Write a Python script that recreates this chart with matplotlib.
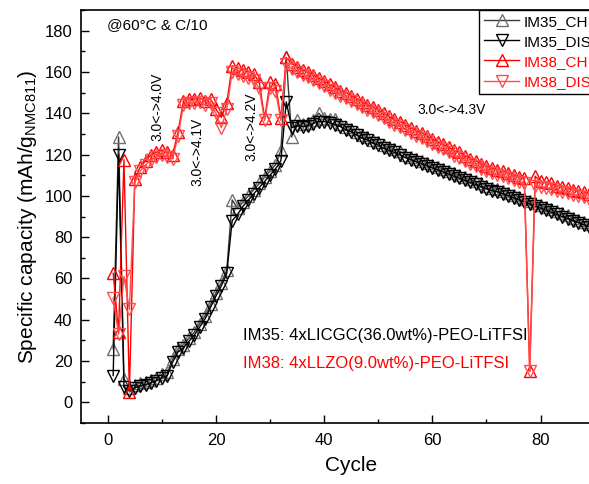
import matplotlib
matplotlib.use("Agg")
import matplotlib.pyplot as plt
from matplotlib.ticker import MultipleLocator

plt.rcParams['font.family'] = ['Liberation Sans', 'DejaVu Sans']
plt.rcParams['mathtext.fontset'] = 'custom'
plt.rcParams['mathtext.rm'] = 'Liberation Sans'
plt.rcParams['mathtext.it'] = 'Liberation Sans'

cycles = list(range(1, 93))

im35_ch = [26, 128.5, 11.5, 7, 8.5, 9.5, 10, 11, 12, 13.5,
           14.5, 21, 26, 28, 31, 34, 38, 42, 47.5, 53,
           58, 64, 98, 94, 97, 100, 103, 106, 109, 112,
           115, 122, 167, 128.5, 136.5, 135, 135.5, 136.5, 140, 137.5,
           137, 137, 135, 133.5, 132.5, 131, 129.5, 128.5, 127, 126,
           124.5, 123.5, 122.5, 121.5, 120, 119, 118, 117, 116, 115,
           114, 113, 112, 111, 110, 109, 108, 107, 106, 105,
           104, 103.5, 102.5, 101.5, 100.5, 99.5, 98.5, 97.5, 96.5, 95.5,
           94.5, 93.5, 92.5, 91.5, 90.5, 89.5, 88.5, 87.5, 86.5, 85.5,
           84.5, 83.5]

im35_dis = [13, 120, 7.5, 5.5, 7, 8, 8.5, 9.5, 10.5, 12,
            13, 19.5, 24.5, 26.5, 29.5, 32.5, 36.5, 40.5, 46, 51.5,
            56.5, 62.5, 88, 91, 95, 98, 101, 104, 107, 110,
            113, 117, 145.5, 133, 134, 133.5, 134, 135, 136, 136,
            135.5, 134.5, 133.5, 132, 131, 129.5, 128, 127, 125.5, 124.5,
            123, 122, 121, 120, 118.5, 117.5, 116.5, 115.5, 114.5, 113.5,
            112.5, 111.5, 110.5, 109.5, 108.5, 107.5, 106.5, 105.5, 104.5, 103.5,
            102.5, 102, 101, 100, 99, 98, 97, 96, 95, 94,
            93, 92, 91, 90, 89, 88, 87, 86, 85, 84,
            83, 82]

im38_ch = [62.5, 34, 117.5, 5, 108, 114, 117, 120, 121, 122,
           121, 120, 131, 146, 147, 147, 147.5, 146, 147, 142,
           138, 145, 163, 162, 161, 160, 159, 155, 137.5, 155,
           154, 137.5, 167, 164, 162.5, 161, 160, 158.5, 157, 155.5,
           154, 152.5, 151, 150, 148.5, 147, 145.5, 144, 143, 141.5,
           140, 138.5, 137, 136, 134.5, 133, 131.5, 130.5, 129, 127.5,
           126, 125, 123.5, 122, 121, 119.5, 118, 117, 115.5, 114.5,
           113.5, 112.5, 112, 111, 110, 109, 108.5, 15, 109.5, 107,
           106.5, 106, 105, 104.5, 104, 103, 102.5, 102, 101, 100.5,
           100, 99.5]

im38_dis = [50.5, 33, 61, 45, 106.5, 112, 115, 117.5, 119, 120,
            119, 118, 129, 144, 145, 145, 145.5, 144, 145, 140,
            133, 142, 160, 159, 158, 157, 156, 152, 136.5, 152,
            151, 136.5, 164, 161.5, 160, 158.5, 157.5, 156, 154.5, 153,
            151.5, 150, 148.5, 147.5, 146, 144.5, 143, 141.5, 140.5, 139,
            137.5, 136, 134.5, 133.5, 132, 130.5, 129, 128, 126.5, 125,
            123.5, 122.5, 121, 119.5, 118.5, 117, 115.5, 114.5, 113, 112,
            111, 110, 109.5, 108.5, 107.5, 106.5, 106, 15, 105, 104.5,
            104, 103.5, 102.5, 102, 101.5, 100.5, 100, 99.5, 98.5, 98,
            97.5, 97]

series_labels = ['IM35_CH', 'IM35_DIS', 'IM38_CH', 'IM38_DIS']

fig = plt.figure(figsize=(5.89, 4.84), dpi=100)
W, H = 589, 484
ax = fig.add_axes([80.7 / W, 61 / H, 541 / W, 413 / H])

styles = [
    dict(marker='^', color='#3a3a3a', mec='#707070', tc='black'),
    dict(marker='v', color='black', mec='black', tc='black'),
    dict(marker='^', color='#ff0000', mec='#ff0000', tc='#ff0000'),
    dict(marker='v', color='#ff4d4d', mec='#ff4d4d', tc='#ff0000'),
]
data = [im35_ch, im35_dis, im38_ch, im38_dis]
handles = []
for ys, lab, st in zip(data, series_labels, styles):
    h, = ax.plot(cycles, ys, marker=st['marker'], color=st['color'], mec=st['mec'],
                 mfc='none', ms=8.5, mew=1.0, lw=1.0, label=lab)
    handles.append(h)

ax.set_xlim(-5, 95)
ax.set_ylim(-10, 190)
ax.xaxis.set_major_locator(MultipleLocator(20))
ax.xaxis.set_minor_locator(MultipleLocator(10))
ax.yaxis.set_major_locator(MultipleLocator(20))
ax.yaxis.set_minor_locator(MultipleLocator(10))
ax.tick_params(which='both', direction='in', top=False, right=False, width=1.0)
ax.tick_params(which='major', length=6, labelsize=12)
ax.tick_params(axis='x', which='major', pad=7)
ax.tick_params(axis='y', which='major', pad=6)
ax.tick_params(which='minor', length=3)
for s in ax.spines.values():
    s.set_linewidth(1.2)

ax.set_xlabel('Cycle', fontsize=15, labelpad=6)
ax.set_ylabel('Specific capacity (mAh/g$_{\\mathregular{NMC811}}$)', fontsize=15, labelpad=4)

ax.text(-0.2, 182.9, '@60°C & C/10', fontsize=11, ha='left', va='center')
ax.text(9.2, 143.3, '3.0<->4.0V', fontsize=10, rotation=90, ha='center', va='center')
ax.text(16.5, 121.3, '3.0<->4.1V', fontsize=10, rotation=90, ha='center', va='center')
ax.text(26.5, 133.4, '3.0<->4.2V', fontsize=10, rotation=90, ha='center', va='center')
ax.text(63.5, 141.7, '3.0<->4.3V', fontsize=10, ha='center', va='center')
ax.text(25, 32.5, 'IM35: 4xLICGC(36.0wt%)-PEO-LiTFSI', fontsize=12, ha='left', va='center', color='black')
ax.text(25, 19, 'IM38: 4xLLZO(9.0wt%)-PEO-LiTFSI', fontsize=12, ha='left', va='center', color='#ff0000')

leg = ax.legend(handles=handles, loc='upper left', bbox_to_anchor=(479 / W, 1 - 10 / H),
                bbox_transform=fig.transFigure, fontsize=11, frameon=True, fancybox=False,
                edgecolor='black', framealpha=1, borderpad=0.3, labelspacing=0.4,
                handlelength=2.35, handletextpad=0.26, borderaxespad=0)
leg.get_frame().set_linewidth(1.0)
for t, st in zip(leg.get_texts(), styles):
    t.set_color(st['tc'])

fig.savefig('out.png', dpi=100)
